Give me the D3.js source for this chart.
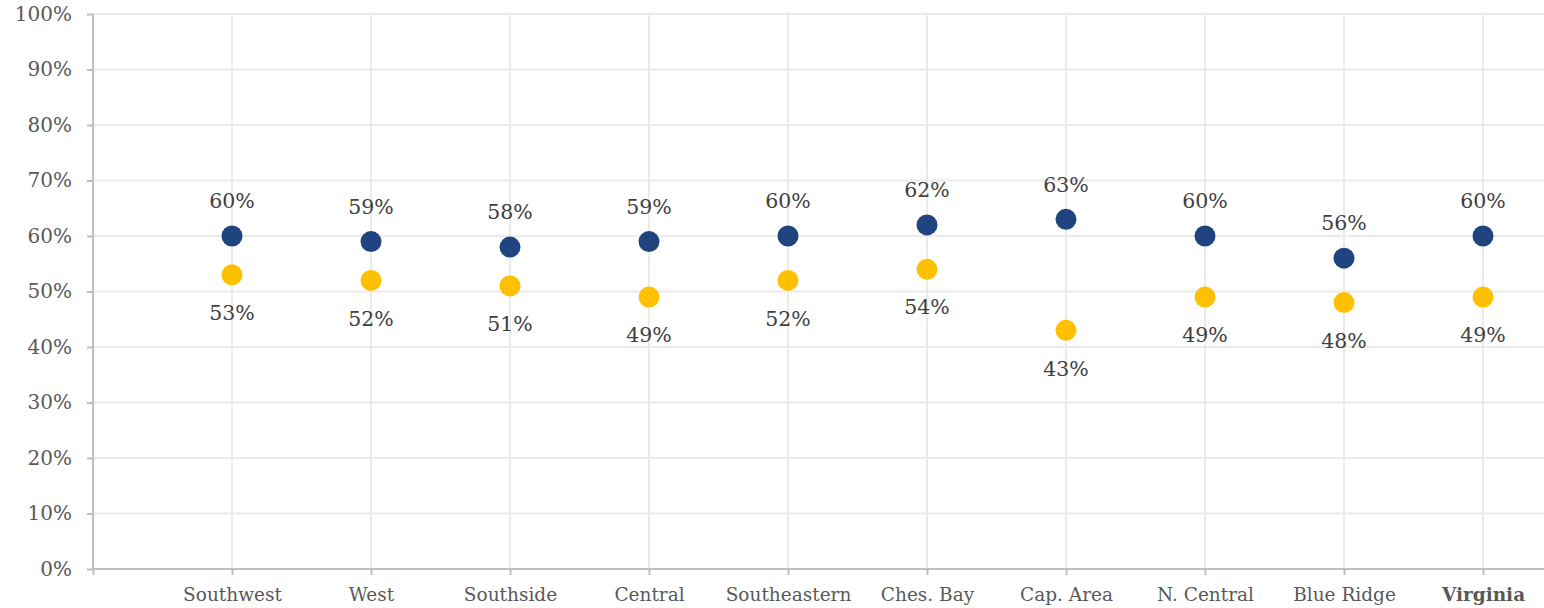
<!DOCTYPE html>
<html><head><meta charset="utf-8">
<script src="https://cdn.jsdelivr.net/npm/d3@7"></script>
<style>body{margin:0;background:#fff}svg{display:block}</style>
</head><body>
<svg id="c" width="1544" height="608"></svg>
<script>
const categories = ["Southwest","West","Southside","Central","Southeastern","Ches. Bay","Cap. Area","N. Central","Blue Ridge","Virginia"];
const seriesTop = [60,59,58,59,60,62,63,60,56,60];
const seriesBottom = [53,52,51,49,52,54,43,49,48,49];
const yTicks = [0,10,20,30,40,50,60,70,80,90,100];

(function(){
const svg = d3.select("#c");
const font = "'DejaVu Serif', Georgia, serif";
const mLeft = 93, mRight = 1544, mTop = 14, mBottom = 569;
const x = d3.scalePoint().domain(["__blank"].concat(categories)).range([mLeft, 1483]);
const y = d3.scaleLinear().domain([0,100]).range([mBottom, mTop]);

svg.append("g").selectAll("line").data(yTicks.filter(d=>d>0)).join("line")
  .attr("x1", mLeft).attr("x2", mRight).attr("y1", d=>y(d)).attr("y2", d=>y(d))
  .attr("stroke", "#ebebeb").attr("stroke-width", 2);
svg.append("g").selectAll("line").data(categories).join("line")
  .attr("x1", d=>x(d)).attr("x2", d=>x(d)).attr("y1", mTop).attr("y2", mBottom)
  .attr("stroke", "#ebebeb").attr("stroke-width", 2);

const yAxis = d3.axisLeft(y).tickValues(yTicks).tickFormat(d=>d+"%").tickSize(6).tickPadding(15);
const gy = svg.append("g").attr("transform", `translate(${mLeft},0)`).call(yAxis);
gy.select(".domain").attr("stroke", "#bfbfbf").attr("stroke-width", 2).attr("d", `M0,${mTop}V${mBottom}`);
gy.selectAll(".tick line").attr("stroke", "#bfbfbf").attr("stroke-width", 2);
gy.selectAll(".tick text").attr("font-family", font).attr("font-size", 20).attr("fill", "#595959");

const xAxis = d3.axisBottom(x).tickSize(6).tickPadding(13).tickFormat(d=>d==="__blank"?"":d);
const gx = svg.append("g").attr("transform", `translate(0,${mBottom})`).call(xAxis);
gx.select(".domain").attr("stroke", "#bfbfbf").attr("stroke-width", 2).attr("d", `M${mLeft},0H${mRight}`);
gx.selectAll(".tick line").attr("stroke", "#bfbfbf").attr("stroke-width", 2);
gx.selectAll(".tick text").attr("font-family", font).attr("font-size", 18.5).attr("fill", "#595959")
  .attr("font-weight", d=>d==="Virginia"?"bold":"normal");

const dark = "#1f447f", gold = "#ffc000";
const g = svg.append("g");
g.selectAll("circle.b").data(categories).join("circle").attr("class","b")
  .attr("cx", d=>x(d)).attr("cy", (d,i)=>y(seriesBottom[i])).attr("r", 10.5).attr("fill", gold);
g.selectAll("circle.t").data(categories).join("circle").attr("class","t")
  .attr("cx", d=>x(d)).attr("cy", (d,i)=>y(seriesTop[i])).attr("r", 10.5).attr("fill", dark);

g.selectAll("text.t").data(categories).join("text").attr("class","t")
  .attr("x", d=>x(d)).attr("y", (d,i)=>y(seriesTop[i]) - 35).attr("dy", "0.35em")
  .attr("text-anchor", "middle").attr("font-family", font).attr("font-size", 20.5).attr("fill", "#404040")
  .text((d,i)=>seriesTop[i]+"%");
g.selectAll("text.b").data(categories).join("text").attr("class","b")
  .attr("x", d=>x(d)).attr("y", (d,i)=>y(seriesBottom[i]) + 38).attr("dy", "0.35em")
  .attr("text-anchor", "middle").attr("font-family", font).attr("font-size", 20.5).attr("fill", "#404040")
  .text((d,i)=>seriesBottom[i]+"%");
})();
</script>
</body></html>
